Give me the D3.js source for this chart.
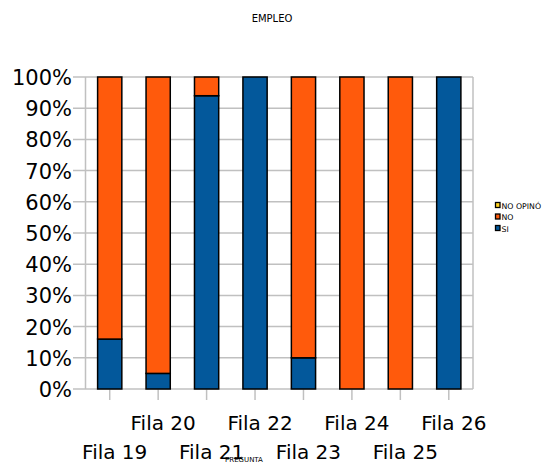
<!DOCTYPE html>
<html><head><meta charset="utf-8">
<script src="https://cdn.jsdelivr.net/npm/d3@7"></script>
<style>body{margin:0;background:#fff}</style>
</head><body>
<script>
const categories = ["Fila 19","Fila 20","Fila 21","Fila 22","Fila 23","Fila 24","Fila 25","Fila 26"];
const si = [16, 5, 94, 100, 10, 0, 0, 100];
const no = [84, 95, 6, 0, 90, 100, 100, 0];
const noOpino = [0, 0, 0, 0, 0, 0, 0, 0];
const yTicks = [0,10,20,30,40,50,60,70,80,90,100];
const seriesNames = ["SI","NO","NO OPINÓ"];
const colors = {"SI":"#03589b","NO":"#ff5a0c","NO OPINÓ":"#ffd320"};

(function(){
const W=544,H=464;
const svg=d3.select("body").append("svg").attr("width",W).attr("height",H);
const pL=85.5,pR=473,pT=77,pB=389;
const x=d3.scaleBand().domain(categories).range([pL,pR]).paddingInner(0.5).paddingOuter(0.25);
const y=d3.scaleLinear().domain([0,100]).range([pB,pT]);

svg.append("g").selectAll("line").data(yTicks).join("line")
  .attr("x1",73).attr("x2",pR).attr("y1",d=>y(d)).attr("y2",d=>y(d))
  .attr("stroke","#c0c0c0").attr("stroke-width",1.5);
svg.append("line").attr("x1",pL).attr("x2",pL).attr("y1",pT).attr("y2",pB).attr("stroke","#c0c0c0").attr("stroke-width",1.5);
svg.append("line").attr("x1",pR).attr("x2",pR).attr("y1",pT).attr("y2",pB).attr("stroke","#c0c0c0").attr("stroke-width",1.5);
svg.append("g").selectAll("line").data(categories).join("line")
  .attr("x1",d=>x(d)+x.bandwidth()/2).attr("x2",d=>x(d)+x.bandwidth()/2)
  .attr("y1",pB).attr("y2",pB+11).attr("stroke","#c0c0c0").attr("stroke-width",1.5);

svg.append("g").selectAll("text").data(yTicks).join("text")
  .attr("x",72).attr("y",d=>y(d)+8).attr("text-anchor","end")
  .attr("font-family","DejaVu Sans").attr("font-size",21).attr("fill","#000")
  .text(d=>d+"%");

const rows=categories.map((c,i)=>({cat:c,"SI":si[i],"NO":no[i],"NO OPINÓ":noOpino[i]}));
const stack=d3.stack().keys(seriesNames)(rows);
stack.forEach(s=>{
  svg.append("g").selectAll("rect").data(s.filter(d=>d[1]-d[0]>0)).join("rect")
    .attr("x",d=>x(d.data.cat)).attr("width",x.bandwidth())
    .attr("y",d=>y(d[1])).attr("height",d=>y(d[0])-y(d[1]))
    .attr("fill",colors[s.key]).attr("stroke","#000").attr("stroke-width",1.5);
});

svg.append("g").selectAll("text").data(categories).join("text")
  .attr("x",d=>x(d)+x.bandwidth()/2+5).attr("y",(d,i)=>i%2===0?459:430)
  .attr("text-anchor","middle").attr("font-family","DejaVu Sans").attr("font-size",20)
  .attr("fill","#000").text(d=>d);

svg.append("text").attr("x",272).attr("y",22).attr("text-anchor","middle")
  .attr("font-family","DejaVu Sans").attr("font-size",10).text("EMPLEO");
svg.append("text").attr("x",244).attr("y",462).attr("text-anchor","middle")
  .attr("font-family","DejaVu Sans").attr("font-size",7).text("PREGUNTA");

const leg=[...seriesNames].reverse();
const lg=svg.append("g");
leg.forEach((n,i)=>{
  lg.append("rect").attr("x",495.5).attr("y",202.5+i*11.5).attr("width",4.5).attr("height",5)
    .attr("fill",colors[n]).attr("stroke","#000").attr("stroke-width",1.3);
  lg.append("text").attr("x",501.5).attr("y",208.5+i*11.5).attr("font-family","DejaVu Sans")
    .attr("font-size",7.8).text(n);
});
})();
</script>
</body></html>
